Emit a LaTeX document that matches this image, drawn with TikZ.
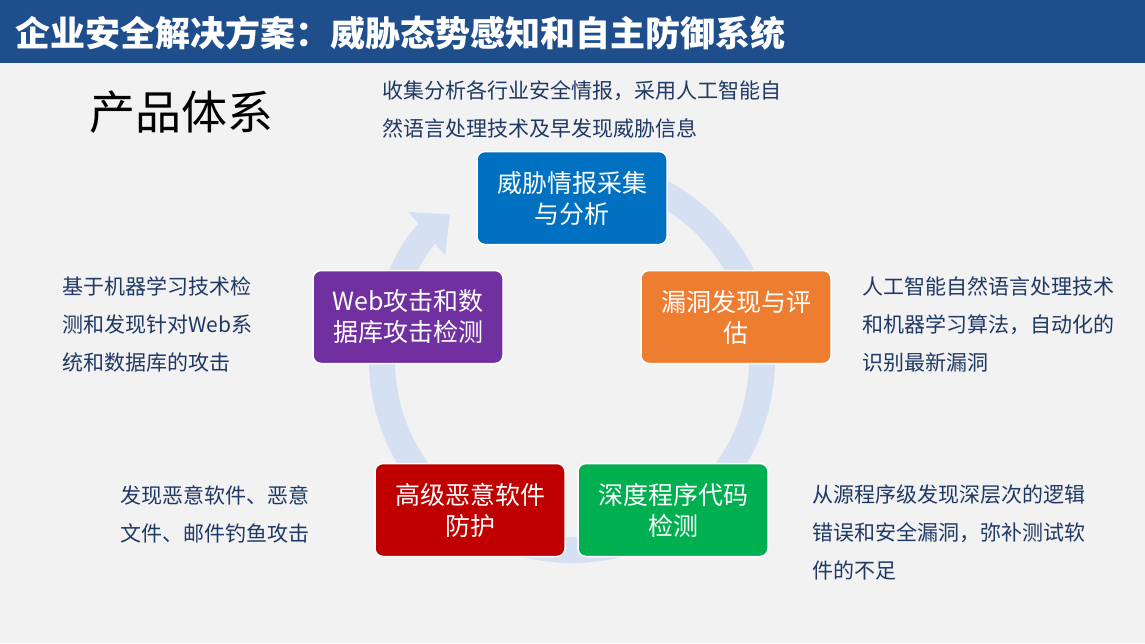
\documentclass[tikz,border=0pt]{standalone}
\usepackage{fontspec}
\setmainfont{Liberation Sans}
\newfontfamily\cjk{Noto Sans CJK SC}
\usetikzlibrary{arrows.meta}
\definecolor{bg}{HTML}{F2F2F2}
\definecolor{bar}{HTML}{1F4E8C}
\definecolor{ring}{HTML}{D5E0F2}
\definecolor{txt}{HTML}{1F3864}
\tikzset{
 box/.style={draw=white,line width=1.5pt,rounded corners=8pt,minimum width=190pt,minimum height=93pt,text=white,align=center,font=\cjk\fontsize{25}{31}\selectfont,inner sep=2pt},
 desc/.style={anchor=north west,align=left,text=txt,font=\cjk\fontsize{21}{38}\selectfont,inner sep=0pt}
}
\begin{document}
\begin{tikzpicture}[x=1pt,y=-1pt]
\fill[bg] (0,0) rectangle (1145,643);
\useasboundingbox (0,0) rectangle (1145,643);
\fill[bar] (0,0) rectangle (1145,63);
\node[anchor=west,text=white,font=\cjk\bfseries\fontsize{35}{38}\selectfont] (title) at (12,33) {企业安全解决方案：威胁态势感知和自主防御系统};
\node[anchor=west,font=\cjk\fontsize{46}{50}\selectfont] (pt) at (86,112) {产品体系};
\draw[ring,line width=26pt,-{Triangle[length=30pt,width=55pt]}] (572,360) ++(-80:190) arc[start angle=-80,end angle=230,radius=190];
\node[box,fill={rgb,255:red,0;green,112;blue,192}] (a) at (572,198) {威胁情报采集\\与分析};
\node[box,fill={rgb,255:red,237;green,125;blue,49}] (b) at (736,317) {漏洞发现与评\\估};
\node[box,fill={rgb,255:red,0;green,176;blue,80}] (c) at (673,510) {深度程序代码\\检测};
\node[box,fill={rgb,255:red,192;green,0;blue,0}] (d) at (470,510) {高级恶意软件\\防护};
\node[box,fill={rgb,255:red,112;green,48;blue,160}] (e) at (408,317) {Web攻击和数\\据库攻击检测};
\node[desc] (ta) at (382,80) {收集分析各行业安全情报，采用人工智能自\\然语言处理技术及早发现威胁信息};
\node[desc] (tb) at (862,276) {人工智能自然语言处理技术\\和机器学习算法，自动化的\\识别最新漏洞};
\node[desc] (te) at (62,276) {基于机器学习技术检\\测和发现针对Web系\\统和数据库的攻击};
\node[desc] (td) at (120,485) {发现恶意软件、恶意\\文件、邮件钓鱼攻击};
\node[desc] (tc) at (812,485) {从源程序级发现深层次的逻辑\\错误和安全漏洞，弥补测试软\\件的不足};
\end{tikzpicture}
\end{document}
